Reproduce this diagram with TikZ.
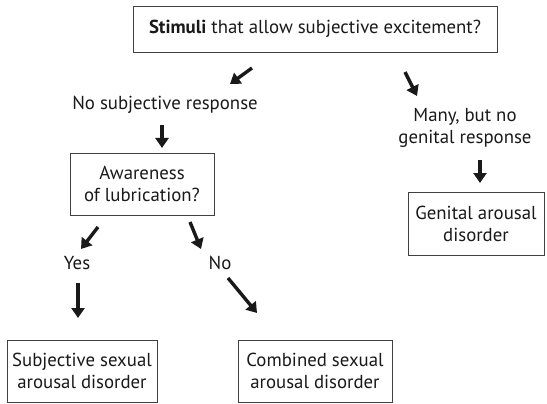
\documentclass[tikz,border=0pt]{standalone}
\usepackage{fontspec}
\setmainfont{PT Sans}
\usetikzlibrary{arrows.meta}
\begin{document}
\begin{tikzpicture}[x=1pt,y=-1pt,
  every node/.style={font=\fontsize{18.8}{22}\selectfont, text=black!90, inner sep=0pt},
  box/.style={draw=black!75, line width=0.8pt, align=center},
  lbl/.style={align=center},
  arr/.style={line width=3.4pt, -{Triangle[length=10pt,width=13pt]}, black!90}]
\useasboundingbox (0,0) rectangle (547,404);
\node[box, minimum width=364pt, minimum height=46pt] (top) at (315,29) {\textbf{Stimuli} that allow subjective excitement?};
\node[lbl] (nosub) at (165,105) {No subjective response};
\node[lbl] (many) at (465,128) {Many, but no\\genital response};
\node[box, minimum width=144pt, minimum height=62pt] (aware) at (142,184) {Awareness\\of lubrication?};
\node[box, minimum width=136pt, minimum height=63pt] (genital) at (476,223.5) {Genital arousal\\disorder};
\node[lbl] (yes) at (77,263) {Yes};
\node[lbl] (no) at (220,263) {No};
\node[box, minimum width=150pt, minimum height=62pt] (subj) at (82,371) {Subjective sexual\\arousal disorder};
\node[box, minimum width=154pt, minimum height=62pt] (comb) at (315,371) {Combined sexual\\arousal disorder};
% arrow end points
\coordinate (a1s) at (252,68);  \coordinate (a1e) at (230,84);
\coordinate (a2s) at (405,72);  \coordinate (a2e) at (417,96);
\coordinate (a3s) at (162,125); \coordinate (a3e) at (162,148);
\coordinate (a4s) at (480,160); \coordinate (a4e) at (480,183);
\coordinate (a5s) at (98,227);  \coordinate (a5e) at (81,249);
\coordinate (a6s) at (190,222); \coordinate (a6e) at (201,249);
\coordinate (a7s) at (78,283);  \coordinate (a7e) at (78,318);
\coordinate (a8s) at (228,278); \coordinate (a8e) at (257,313);
\draw[arr] (a1s) -- (a1e);
\draw[arr] (a2s) -- (a2e);
\draw[arr] (a3s) -- (a3e);
\draw[arr] (a4s) -- (a4e);
\draw[arr] (a5s) -- (a5e);
\draw[arr] (a6s) -- (a6e);
\draw[arr] (a7s) -- (a7e);
\draw[arr] (a8s) -- (a8e);
\end{tikzpicture}
\end{document}
